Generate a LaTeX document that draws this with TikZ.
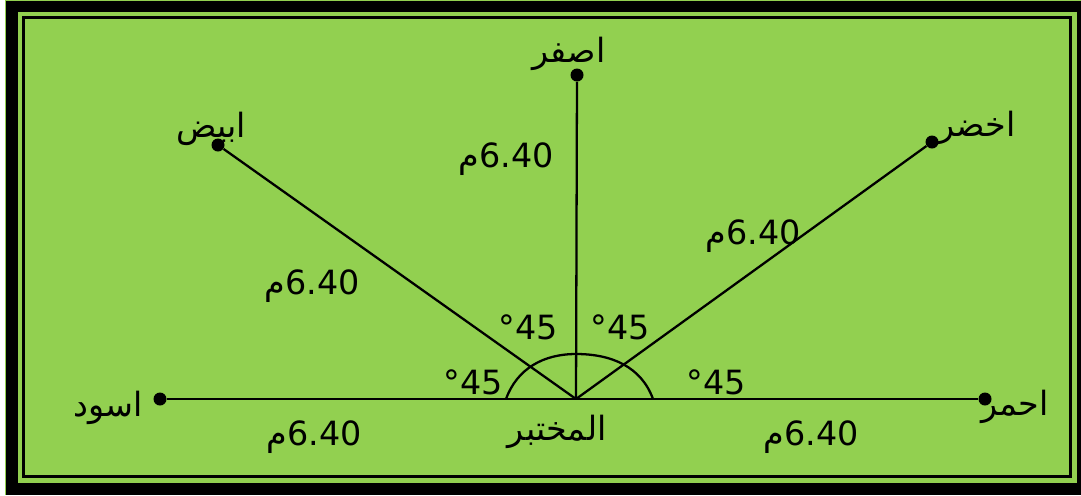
\documentclass[tikz,border=0pt]{standalone}
\usepackage{fontspec}
\setmainfont{DejaVu Sans}
\newfontfamily\arabicfont[Script=Arabic]{DejaVu Sans}
\TeXXeTstate=1
\usepackage{tikz}
\usetikzlibrary{positioning}
\definecolor{labGreen}{RGB}{146,208,80}
\newcommand{\ar}[1]{{\arabicfont\beginR #1\endR}}
\newcommand{\dist}{{\arabicfont م}6.40}

\tikzset{
  spoke/.style={line width=1.3pt, black},
  endDot/.style={circle, fill=black, inner sep=0pt, minimum size=7.4pt},
  word/.style={inner sep=0pt, font=\fontsize{19}{22}\selectfont},
}

\begin{document}
\begin{tikzpicture}[x=0.02cm, y=-0.02cm]
\useasboundingbox (0,0) rectangle (1081,495);
\clip (0,0) rectangle (1081,495);
% frame
\fill[white] (0,0) rectangle (1081,495);
\fill[labGreen] (5,0) rectangle (1081,495);
\draw[line width=6.3pt] (12,6.5) rectangle (1082.5,489);
\draw[line width=1.8pt] (23.5,17.5) rectangle (1070.5,476.5);

% points
\coordinate (lab) at (576,399);
\node[endDot] (black)  at (160,399) {};
\node[endDot] (red)    at (985,399) {};
\node[endDot] (yellow) at (577,75) {};
\node[endDot] (white)  at (218,145) {};
\node[endDot] (green)  at (932,142) {};

\draw[spoke] (black) -- (lab) -- (red);
\draw[spoke] (lab) -- (yellow);
\draw[spoke] (lab) -- (white);
\draw[spoke] (lab) -- (green);
\draw[spoke] (506,399) to[out=70,in=180] (576,354) to[out=0,in=110] (653,399);

% names
\node[word] (labName)    at (557,432) {\ar{المختبر}};
\node[word] (blackName)  at (108,408) {\ar{اسود}};
\node[word] (redName)    at (1015,407) {\ar{احمر}};
\node[word] (yellowName) at (569,54) {\ar{اصفر}};
\node[word] (whiteName)  at (211,129) {\ar{ابيض}};
\node[word] (greenName)  at (977,128) {\ar{اخضر}};

% distances
\node[word] at (506,159) {\dist};
\node[word] at (312,286) {\dist};
\node[word] at (753,236) {\dist};
\node[word] at (314,437) {\dist};
\node[word] at (811,437) {\dist};

% angles
\node[word] at (528,327) {°45};
\node[word] at (620,327) {°45};
\node[word] at (473,382) {°45};
\node[word] at (716,382) {°45};
\end{tikzpicture}
\end{document}
